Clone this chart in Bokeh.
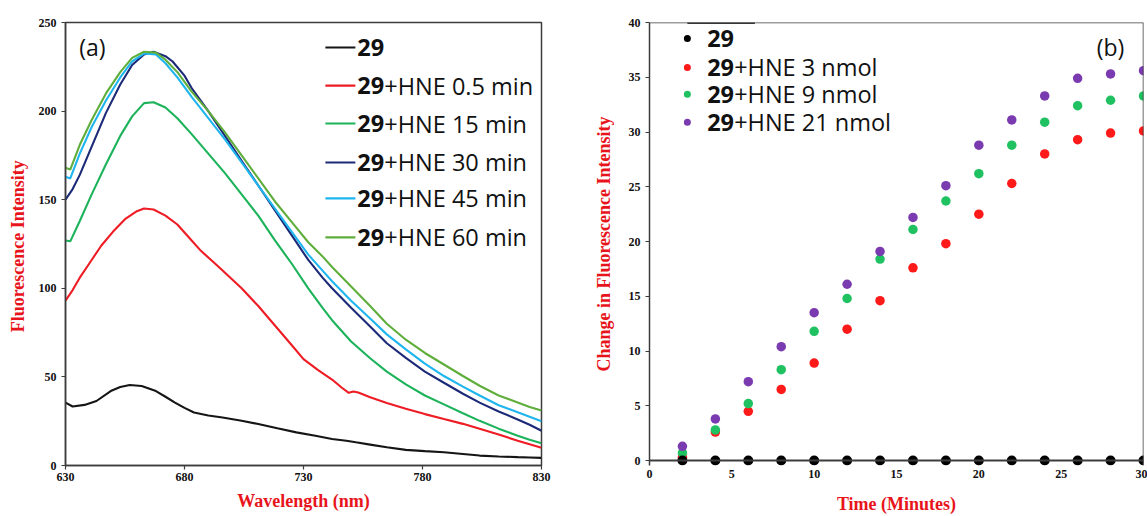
from bokeh.plotting import figure
from bokeh.layouts import row
from bokeh.models import Range1d, FixedTicker, Span
from bokeh.core.properties import value
from bokeh.embed import file_html
from bokeh.resources import INLINE

# ---------------- Panel (a): emission spectra ----------------
wl_29 = [630, 633, 638, 643, 649, 653, 657, 662, 668, 672, 676, 680, 684, 690, 696, 704, 711, 719,
         727, 735, 742, 748, 752, 758, 765, 773, 781, 789, 797, 804, 812, 820, 825, 830]
fi_29 = [35.5, 33.3, 34.2, 36.4, 42.0, 44.3, 45.4, 44.9, 42.0, 38.8, 35.5, 32.5, 29.9, 28.2, 27.1, 25.3,
         23.4, 21.0, 18.7, 16.8, 15.0, 14.0, 13.1, 11.8, 10.3, 8.8, 8.1, 7.5, 6.5, 5.6, 5.1, 4.7, 4.5, 4.3]

wl_05 = [630, 633, 636, 640, 645, 650, 655, 660, 663, 667, 672, 677, 683, 687, 692, 696, 704, 711, 718,
         725, 730, 736, 742, 746, 749, 751, 753, 758, 765, 773, 781, 789, 797, 804, 812, 820, 825, 830]
fi_05 = [93, 99, 106, 114, 124, 132, 139, 143.5, 145, 144.5, 141, 136, 127, 121, 115, 110, 100, 90, 79,
         68, 60, 54, 48.5, 44, 41, 41.8, 41.2, 38.5, 35.3, 32, 29, 26.2, 23.5, 20.7, 17.5, 14, 12, 10]

wl_15 = [630, 632, 636, 641, 647, 653, 658, 663, 667, 672, 677, 683, 690, 697, 704, 711, 718, 725, 732,
         738, 742, 750, 758, 765, 773, 781, 789, 797, 804, 812, 820, 825, 830]
fi_15 = [127, 126.5, 138, 153, 170, 186, 197, 204.5, 205, 202, 196, 187, 176, 165, 153, 141, 127, 114, 100,
         89, 82, 70, 60.5, 53, 45.8, 39.5, 34.5, 29.5, 25.2, 20.8, 16.8, 14.5, 12.5]

wl_30 = [630, 633, 636, 641, 647, 653, 658, 663, 667, 672, 675, 680, 683, 690, 697, 704, 711, 718, 725,
         732, 738, 742, 750, 758, 765, 773, 781, 789, 797, 804, 812, 820, 825, 830]
fi_30 = [150, 156, 164, 180, 199, 215, 226, 232, 233.5, 231, 228, 220, 213, 200, 186, 172, 158, 144, 130,
         116, 106, 100, 89, 78.5, 69, 60.7, 53, 46.7, 40.5, 35.5, 30.5, 26, 23, 19.6]

wl_45 = [630, 632, 636, 641, 647, 653, 658, 663, 668, 672, 677, 683, 690, 697, 704, 711, 718, 725, 732,
         738, 742, 750, 758, 765, 773, 781, 789, 797, 804, 812, 820, 825, 830]
fi_45 = [163, 162, 176, 191, 206, 219, 228, 232.5, 232, 227, 219, 208, 196, 184, 171, 158, 145, 132, 119,
         110, 104, 93, 83, 74, 65.5, 57.5, 50.5, 44.5, 39.5, 34, 30, 27.5, 25]

wl_60 = [630, 632, 636, 641, 647, 653, 658, 663, 668, 672, 677, 683, 690, 697, 704, 711, 718, 725, 732,
         738, 742, 750, 758, 765, 773, 781, 789, 797, 804, 812, 820, 825, 830]
fi_60 = [168, 167, 181, 195, 210, 222, 230, 233.5, 233, 229, 222, 211, 200, 188, 175, 162, 149, 137.5, 126,
         118, 112, 101, 90, 80, 71, 63.5, 57, 50.5, 45, 39.5, 35.5, 33, 31]

labels_a = ["29", "29+HNE 0.5 min", "29+HNE 15 min", "29+HNE 30 min", "29+HNE 45 min", "29+HNE 60 min"]
colors_a = ["#151515", "#ee1c24", "#1db35b", "#1c2a78", "#1fb5ee", "#5fae3c"]
xticks_a = [630, 680, 730, 780, 830]
yticks_a = [0, 50, 100, 150, 200, 250]

# ---------------- Panel (b): change vs time ----------------
time_min = [2, 4, 6, 8, 10, 12, 14, 16, 18, 20, 22, 24, 26, 28, 30]
chg_29 = [0, 0, 0, 0, 0, 0, 0, 0, 0, 0, 0, 0, 0, 0, 0]
chg_3 = [0.3, 2.6, 4.5, 6.5, 8.9, 12.0, 14.6, 17.6, 19.8, 22.5, 25.3, 28.0, 29.3, 29.9, 30.1]
chg_9 = [0.7, 2.8, 5.2, 8.3, 11.8, 14.8, 18.4, 21.1, 23.7, 26.2, 28.8, 30.9, 32.4, 32.9, 33.3]
chg_21 = [1.3, 3.8, 7.2, 10.4, 13.5, 16.1, 19.1, 22.2, 25.1, 28.8, 31.1, 33.3, 34.9, 35.3, 35.6]

labels_b = ["29", "29+HNE 3 nmol", "29+HNE 9 nmol", "29+HNE 21 nmol"]
colors_b = ["#000000", "#ff1a1a", "#1fc160", "#7b3bb0"]
xticks_b = [0, 5, 10, 15, 20, 25, 30]
yticks_b = [0, 5, 10, 15, 20, 25, 30, 35, 40]

# ---------------- styling constants ----------------
TICK_FONT = "Liberation Serif"
TITLE_RED = "#e8141c"
FRAME = "#3c3c3c"
LEG_FONT = "Open Sans"
LEG_SIZE = "23.5px"


def style(p, xticks, yticks, xlab, ylab, ylab_standoff):
    p.outline_line_color = FRAME
    p.outline_line_width = 1.5
    p.xgrid.visible = False
    p.ygrid.visible = False
    p.xaxis.ticker = FixedTicker(ticks=xticks)
    p.yaxis.ticker = FixedTicker(ticks=yticks)
    for ax in (p.xaxis[0], p.yaxis[0]):
        ax.axis_line_color = FRAME
        ax.axis_line_width = 1.5
        ax.major_tick_line_color = FRAME
        ax.major_tick_line_width = 1.2
        ax.major_tick_in = 0
        ax.major_tick_out = 4
        ax.minor_tick_line_color = None
        ax.major_label_text_font = TICK_FONT
        ax.major_label_text_font_style = "bold"
        ax.major_label_text_font_size = "12px"
        ax.major_label_text_color = "#111111"
        ax.axis_label_text_font = TICK_FONT
        ax.axis_label_text_font_style = "bold"
        ax.axis_label_text_font_size = "18px"
        ax.axis_label_text_color = TITLE_RED
    p.xaxis.axis_label = xlab
    p.yaxis.axis_label = ylab
    p.yaxis.major_label_standoff = 5
    p.yaxis.axis_label_standoff = ylab_standoff


# ---------------- figure (a) ----------------
pa = figure(width=590, height=516, x_range=Range1d(630, 830), y_range=Range1d(0, 250),
            min_border_left=65, min_border_right=49, min_border_top=22, min_border_bottom=51,
            output_backend="svg", toolbar_location=None, background_fill_color="white")
style(pa, xticks_a, yticks_a, "Wavelength (nm)", "Fluorescence  Intensity", 8)
pa.xaxis.major_label_standoff = 3
pa.xaxis.axis_label_standoff = 7

series_a = [(wl_29, fi_29), (wl_05, fi_05), (wl_15, fi_15), (wl_30, fi_30), (wl_45, fi_45), (wl_60, fi_60)]
for (xs, ys), c in zip(series_a, colors_a):
    pa.line(xs, ys, line_color=c, line_width=2.1)

# legend (a), placed in data space of the panel
leg_a_x0, leg_a_x1, leg_a_tx = 739.2, 751.8, 752.6
leg_a_y = [235.9, 214.4, 193.0, 171.0, 150.7, 128.7]
pa.segment(x0=[leg_a_x0] * 6, y0=leg_a_y, x1=[leg_a_x1] * 6, y1=leg_a_y, line_color=colors_a, line_width=2.2)
bold_a = [s.split("+", 1)[0] for s in labels_a]
rest_a = ["+" + s.split("+", 1)[1] if "+" in s else "" for s in labels_a]
pa.text(x=[leg_a_tx] * 6, y=leg_a_y, text=bold_a, text_font=value(LEG_FONT), text_font_style="bold",
        text_font_size=LEG_SIZE, text_baseline="middle", text_color="#111111")
pa.text(x=[leg_a_tx] * 6, y=leg_a_y, text=rest_a, x_offset=27, text_font=value(LEG_FONT),
        text_font_size=LEG_SIZE, text_baseline="middle", text_color="#111111")
pa.text(x=[641.3], y=[235.9], text=["(a)"], text_font=value(LEG_FONT), text_font_size="23px",
        text_baseline="middle", text_align="center", text_color="#111111")

# ---------------- figure (b) ----------------
# y range starts a little below zero so the markers sitting on the zero line are not clipped;
# the zero line is drawn as a span.
pb = figure(width=557, height=516, x_range=Range1d(0, 30), y_range=Range1d(-0.45, 40),
            min_border_left=57, min_border_right=4, min_border_top=22, min_border_bottom=51,
            output_backend="svg", toolbar_location=None, background_fill_color="white")
style(pb, xticks_b, yticks_b, "Time (Minutes)", "Change in Fluorescence Intensity", 12)
pb.outline_line_color = None
pb.xaxis.axis_line_color = None
pb.xaxis.major_tick_out = 0
pb.xaxis.major_label_standoff = 4
pb.xaxis.axis_label_standoff = 13
pb.add_layout(Span(location=0, dimension="width", line_color=FRAME, line_width=2))
pb.add_layout(Span(location=40, dimension="width", line_color=FRAME, line_width=1.5))
pb.add_layout(Span(location=30, dimension="height", line_color=FRAME, line_width=1.5))

for ys, c in zip([chg_3, chg_9, chg_21], colors_b[1:]):
    pb.scatter(time_min, ys, size=9.5, fill_color=c, line_color=None)
pb.scatter(time_min, chg_29, size=10, fill_color=colors_b[0], line_color=None)

# legend (b)
leg_b_mx, leg_b_tx = 2.3, 3.5
leg_b_y = [38.55, 35.9, 33.45, 30.9]
pb.segment(x0=[2.3], y0=[40], x1=[6.4], y1=[40], line_color="#333333", line_width=3)
pb.scatter(x=[leg_b_mx] * 4, y=leg_b_y, size=7, fill_color=colors_b, line_color=None)
bold_b = [s.split("+", 1)[0] for s in labels_b]
rest_b = ["+" + s.split("+", 1)[1] if "+" in s else "" for s in labels_b]
pb.text(x=[leg_b_tx] * 4, y=leg_b_y, text=bold_b, text_font=value(LEG_FONT), text_font_style="bold",
        text_font_size=LEG_SIZE, text_baseline="middle", text_color="#111111")
pb.text(x=[leg_b_tx] * 4, y=leg_b_y, text=rest_b, x_offset=27, text_font=value(LEG_FONT),
        text_font_size=LEG_SIZE, text_baseline="middle", text_color="#111111")
pb.text(x=[28.0], y=[37.8], text=["(b)"], text_font=value(LEG_FONT), text_font_size="23px",
        text_baseline="middle", text_align="center", text_color="#111111")

layout = row(pa, pb, spacing=0)
open("out.html", "w").write(file_html(layout, INLINE))
